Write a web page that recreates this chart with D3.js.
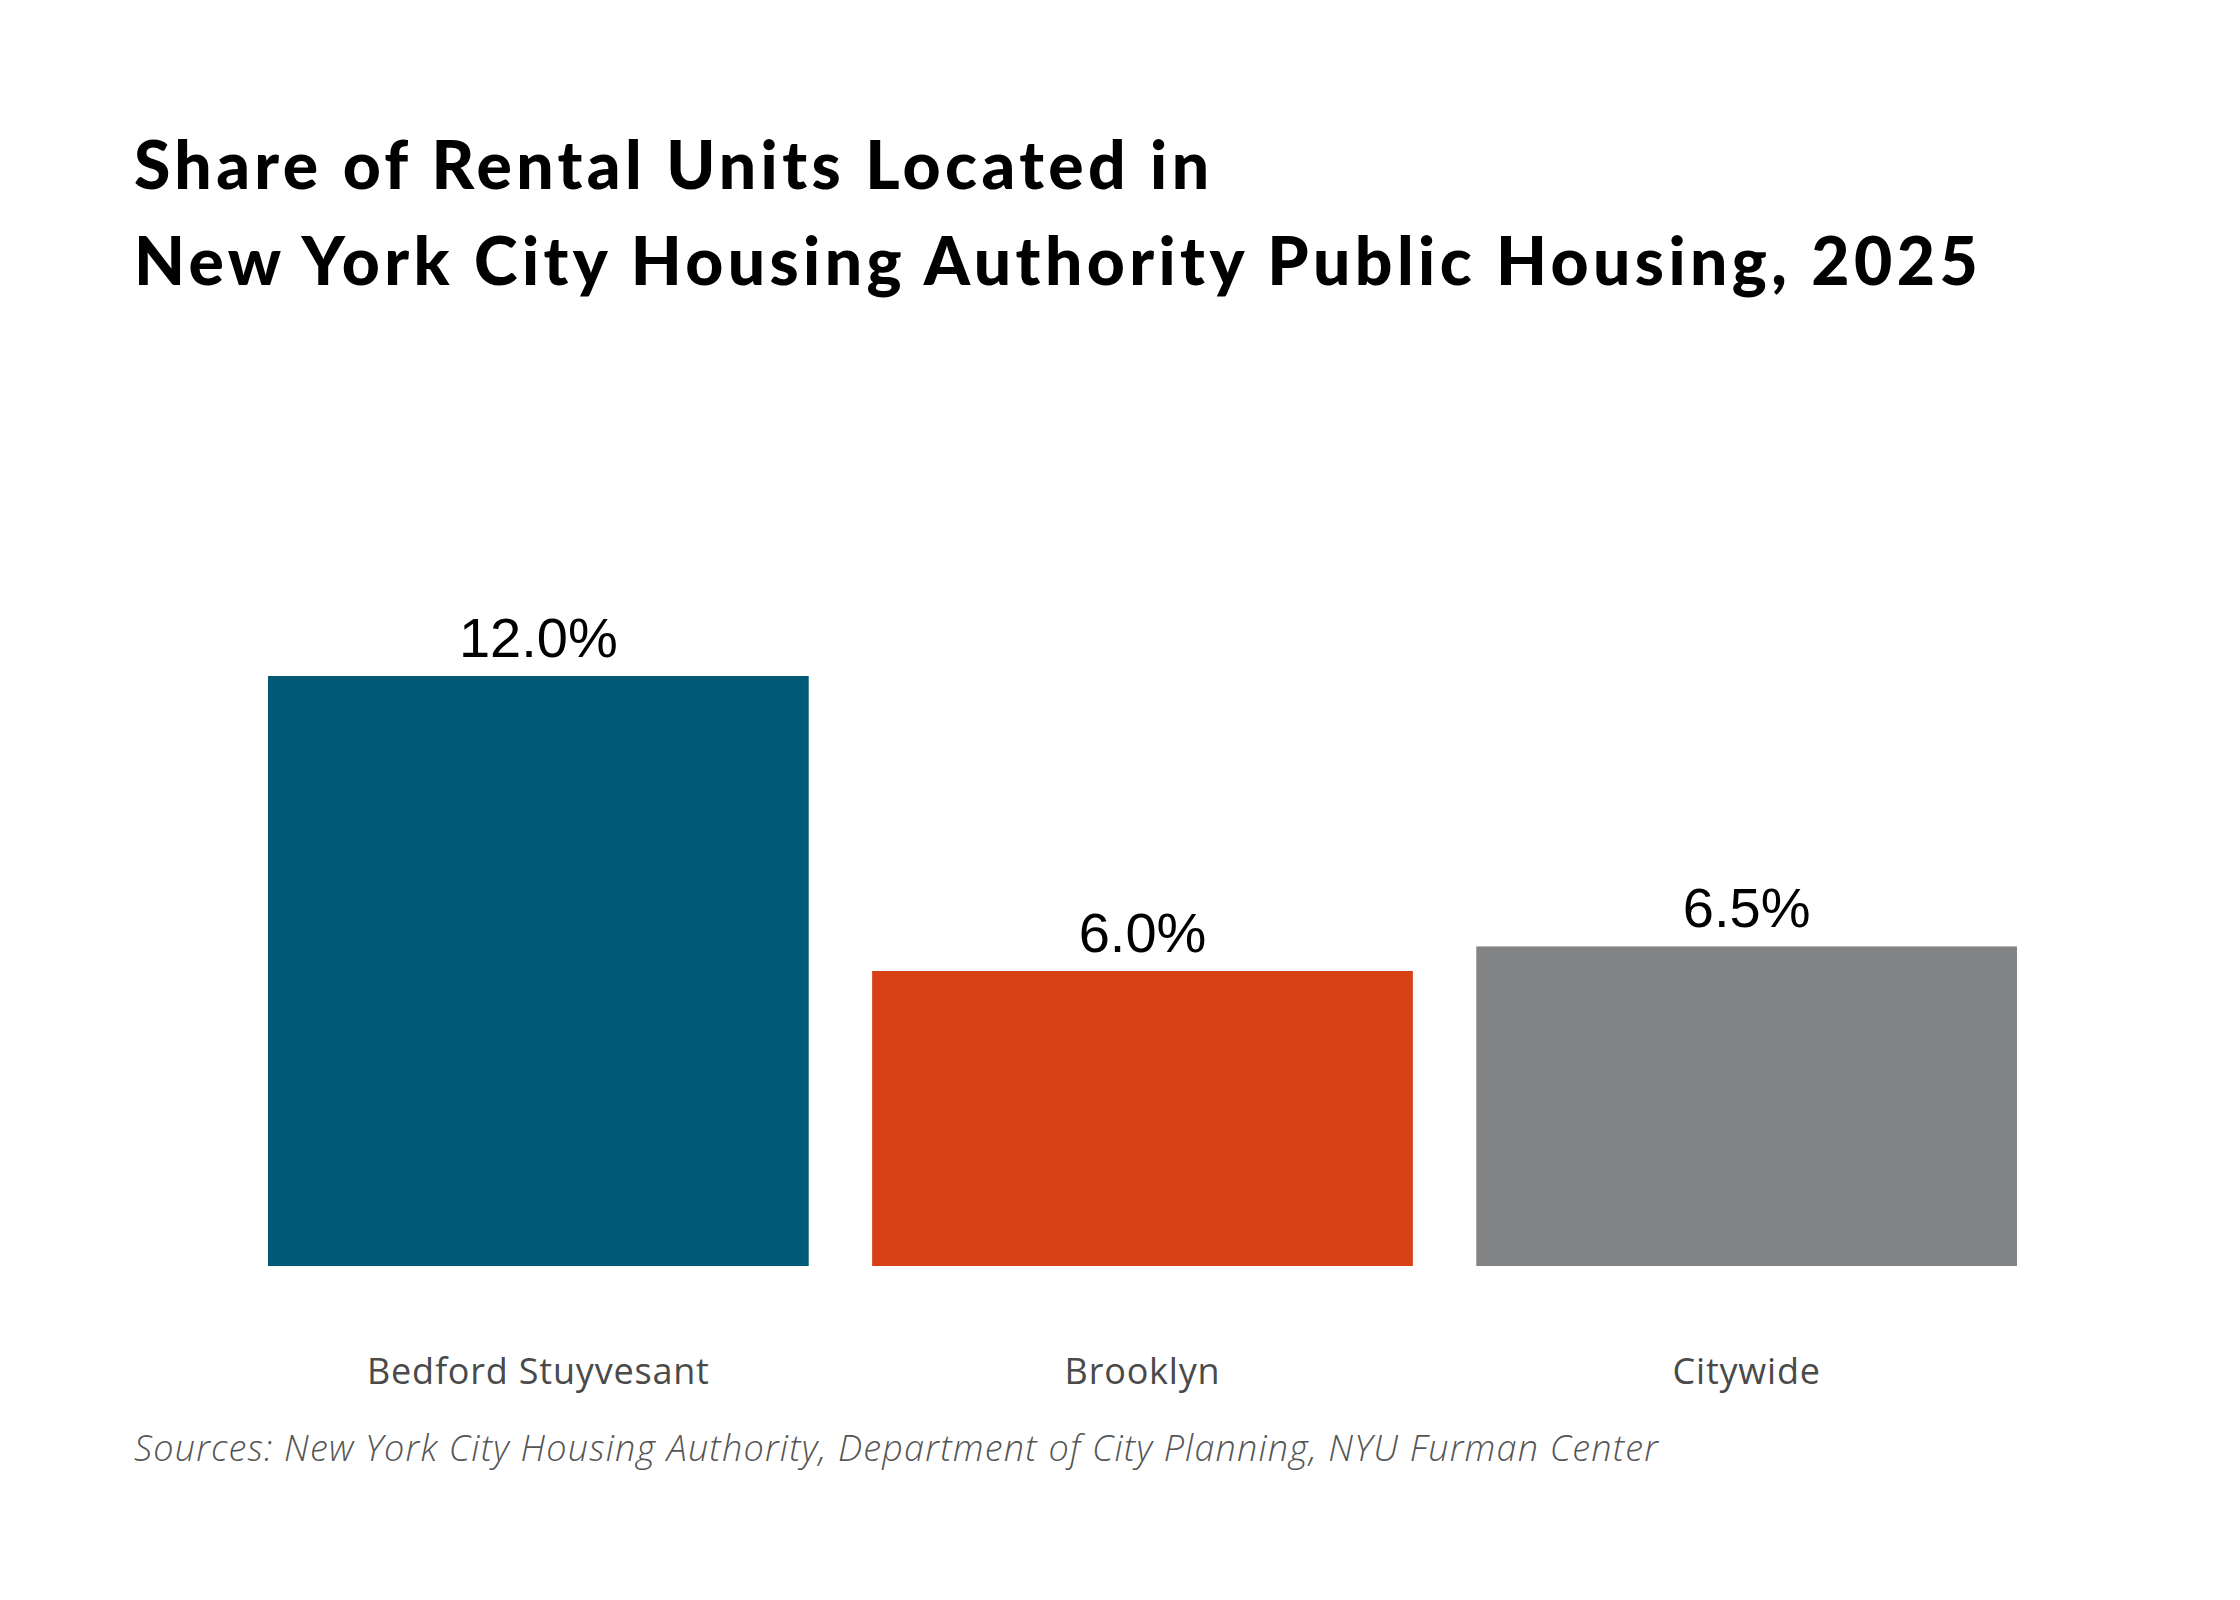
<!DOCTYPE html>
<html lang="en">
<head>
    <meta charset="UTF-8">
    <title>Share of Rental Units Located in NYCHA Public Housing, 2025</title>
    <script src="https://d3js.org/d3.v7.min.js"></script>
    <style>
        body { margin: 0; background: #fff; }
        svg { display: block; }
    </style>
</head>
<body>
    <div id="chart"></div>

    <script>
        const width = 2240;
        const height = 1600;

        // chart data
        const titleLines = [
            "Share of Rental Units Located in",
            "New York City Housing Authority Public Housing, 2025"
        ];
        const categories = ["Bedford Stuyvesant", "Brooklyn", "Citywide"];
        const shares = [12.0, 6.0, 6.5];
        const barColors = ["#005a75", "#d74113", "#838486"];
        const sourceNote = "Sources: New York City Housing Authority, Department of City Planning, NYU Furman Center";

        const svg = d3.select("#chart")
                      .append("svg")
                      .attr("width", width)
                      .attr("height", height);

        svg.append("rect")
           .attr("width", width)
           .attr("height", height)
           .attr("fill", "#fff");

        // title
        svg.append("g")
           .selectAll("text")
           .data(titleLines)
           .enter()
           .append("text")
           .attr("x", 134)
           .attr("y", (d, i) => 189 + i * 96)
           .style("font-family", "Lato, sans-serif")
           .style("font-weight", 900)
           .style("font-size", "66px")
           .style("letter-spacing", "4.4px")
           .style("fill", "#000")
           .text(d => d);

        const x = d3.scaleBand()
                    .domain(categories)
                    .range([268, 2017])
                    .paddingInner(0.105)
                    .paddingOuter(0);

        const y = d3.scaleLinear()
                    .domain([0, 12])
                    .range([1266, 676]);

        const data = categories.map((c, i) => ({ name: c, value: shares[i], color: barColors[i] }));

        // bars
        svg.append("g")
           .selectAll("rect")
           .data(data)
           .enter()
           .append("rect")
           .attr("x", d => x(d.name))
           .attr("y", d => y(d.value))
           .attr("width", x.bandwidth())
           .attr("height", d => y(0) - y(d.value))
           .attr("fill", d => d.color);

        // value labels
        svg.append("g")
           .selectAll("text")
           .data(data)
           .enter()
           .append("text")
           .attr("x", d => x(d.name) + x.bandwidth() / 2)
           .attr("y", d => y(d.value) - 19)
           .attr("text-anchor", "middle")
           .style("font-family", "'Liberation Sans', Arial, sans-serif")
           .style("font-size", "56px")
           .style("fill", "#000")
           .text(d => d.value.toFixed(1) + "%");

        // category axis, no line or ticks
        const xAxis = svg.append("g")
           .attr("transform", `translate(0, ${y(0)})`)
           .call(d3.axisBottom(x).tickSize(0).tickPadding(0));
        xAxis.select(".domain").remove();
        xAxis.selectAll("text")
             .attr("y", 118)
             .attr("dy", 0)
             .style("font-family", "'Open Sans', sans-serif")
             .style("font-size", "36px")
             .style("letter-spacing", "0.8px")
             .style("fill", "#4a4a4a");

        // source note
        svg.append("text")
           .attr("x", 134)
           .attr("y", 1461)
           .style("font-family", "'Open Sans', sans-serif")
           .style("font-style", "italic")
           .style("font-weight", 300)
           .style("font-size", "36px")
           .style("letter-spacing", "1.2px")
           .style("fill", "#555")
           .text(sourceNote);
    </script>
</body>
</html>
